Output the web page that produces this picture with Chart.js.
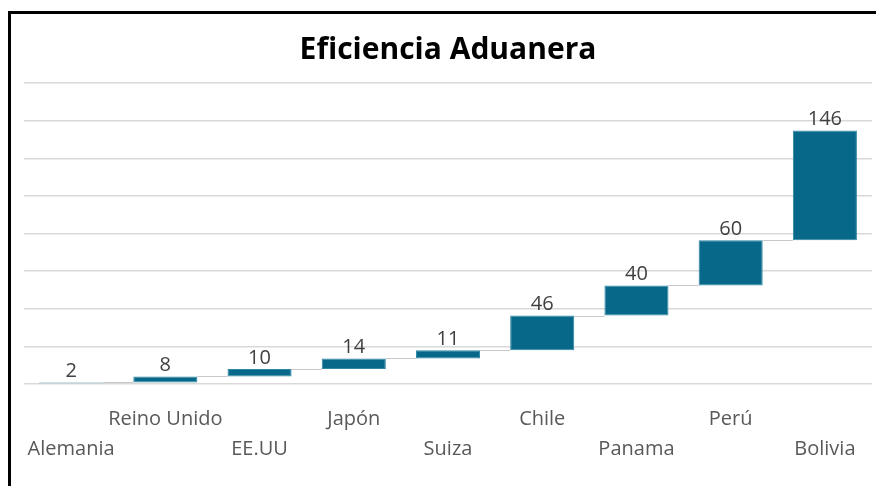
<!DOCTYPE html>
<html>
<head>
<meta charset="utf-8">
<script src="https://cdn.jsdelivr.net/npm/chart.js@4"></script>
<style>
    body { margin: 0; background: #fff; }
    #wrap { position: relative; width: 876px; height: 486px; overflow: hidden; }
    #frame { position: absolute; left: 8px; top: 11px; width: 900px; height: 500px; border: 3px solid #000; pointer-events: none; }
</style>
</head>
<body>
<div id="wrap">
    <canvas id="aduana" width="876" height="486"></canvas>
    <div id="frame"></div>
</div>
<script>
// datos del grafico
const paises = ["Alemania", "Reino Unido", "EE.UU", "Japón", "Suiza", "Chile", "Panama", "Perú", "Bolivia"];
const valores = [2, 8, 10, 14, 11, 46, 40, 60, 146];
const ejeMax = 400;
const ejePaso = 50;

// etiquetas alternadas en dos filas
const etiquetas = paises.map((p, i) => (i % 2 === 0 ? ["", p] : [p, ""]));

// rangos flotantes de la cascada
let acumulado = 0;
const rangos = valores.map((v) => {
    const r = [acumulado, acumulado + v];
    acumulado += v;
    return r;
});

const colorBarra = "#07688a";

// dibuja conectores y valores sobre cada barra
const cascadaPlugin = {
    id: "cascada",
    afterDatasetsDraw(chart) {
        const ctx = chart.ctx;
        const meta = chart.getDatasetMeta(0);
        const y = chart.scales.y;
        ctx.save();
        ctx.strokeStyle = "#c8c8c8";
        ctx.lineWidth = 1;
        for (let i = 0; i < meta.data.length - 1; i++) {
            const a = meta.data[i];
            const b = meta.data[i + 1];
            const yy = Math.round(y.getPixelForValue(rangos[i][1])) + 0.5;
            ctx.beginPath();
            ctx.moveTo(a.x + a.width / 2, yy);
            ctx.lineTo(b.x - b.width / 2, yy);
            ctx.stroke();
        }
        ctx.fillStyle = "#404040";
        ctx.font = "20px 'Open Sans'";
        ctx.textAlign = "center";
        ctx.textBaseline = "bottom";
        meta.data.forEach((bar, i) => {
            const top = y.getPixelForValue(rangos[i][1]);
            ctx.fillText(String(valores[i]), bar.x, top - 1);
        });
        ctx.restore();
    },
};

new Chart(document.getElementById("aduana").getContext("2d"), {
    type: "bar",
    data: {
        labels: etiquetas,
        datasets: [
            {
                label: "Eficiencia",
                data: rangos,
                backgroundColor: colorBarra,
                borderColor: "#2d86a3",
                borderWidth: 1,
                borderSkipped: false,
                barPercentage: 0.68,
                categoryPercentage: 1,
            },
        ],
    },
    options: {
        responsive: false,
        animation: false,
        layout: { padding: { left: 24, right: 4, top: 0, bottom: 10 } },
        plugins: {
            legend: { display: false },
            tooltip: { enabled: false },
            title: {
                display: true,
                text: "Eficiencia Aduanera",
                color: "#000",
                font: { size: 30, weight: "bold", family: "'Open Sans'" },
                padding: { top: 32, bottom: 15 },
            },
        },
        scales: {
            x: {
                grid: { display: false },
                border: { display: false },
                ticks: {
                    color: "#595959",
                    maxRotation: 0,
                    autoSkip: false,
                    padding: 12,
                    font: { size: 20, family: "'Open Sans'", lineHeight: 1.5 },
                },
            },
            y: {
                min: 0,
                max: ejeMax,
                ticks: { display: false, stepSize: ejePaso },
                grid: { color: "#d9d9d9", lineWidth: 1.5, drawTicks: false },
                border: { display: false },
            },
        },
    },
    plugins: [cascadaPlugin],
});
</script>
</body>
</html>
